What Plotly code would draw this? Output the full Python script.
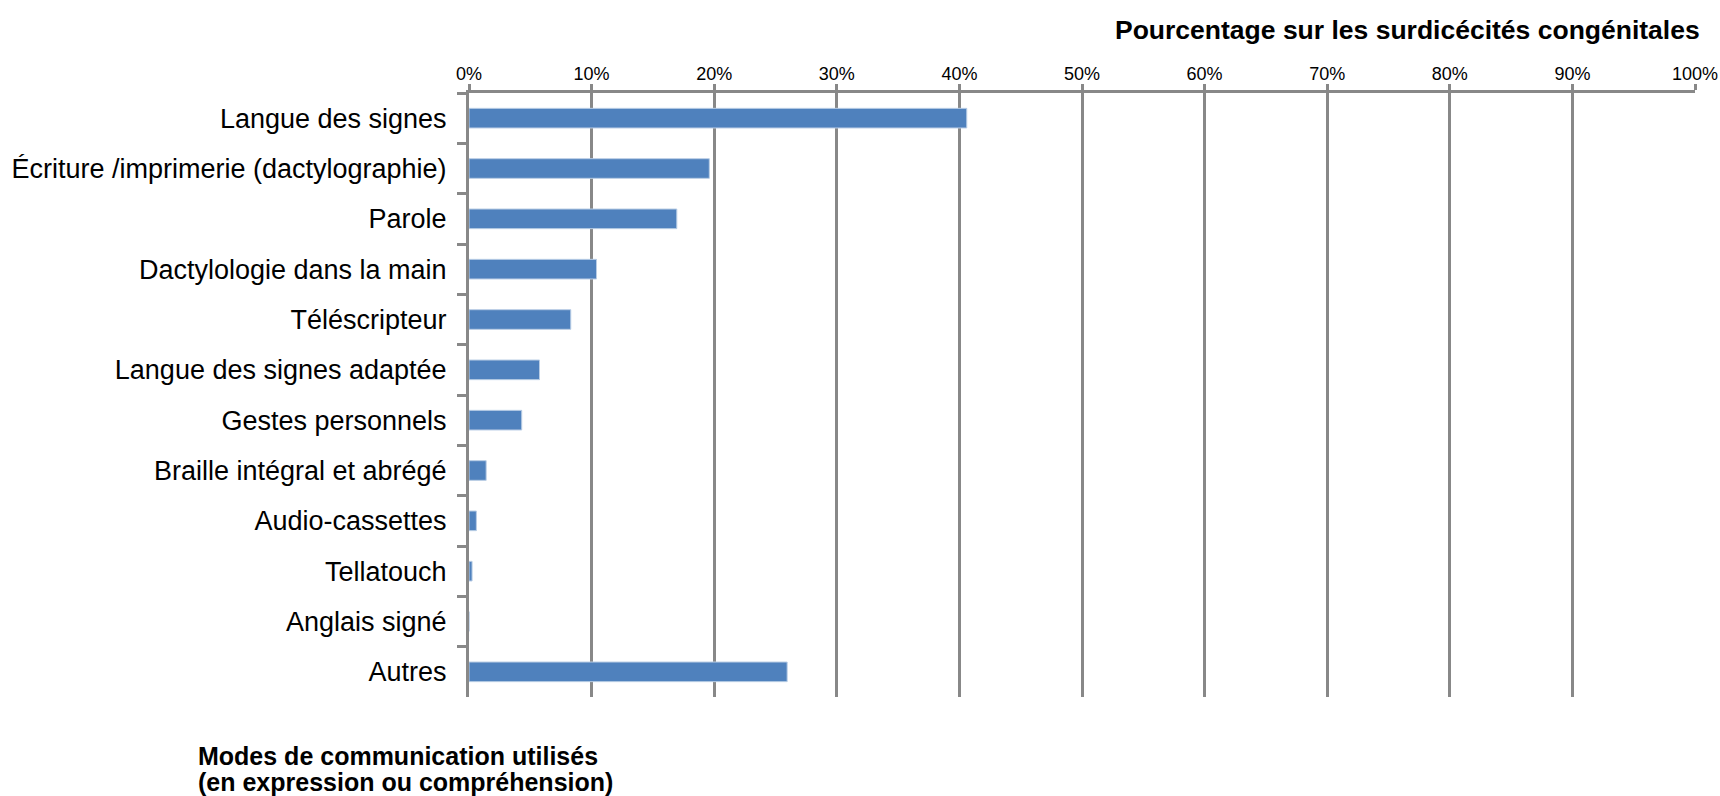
import plotly.graph_objects as go

categories = [
    "Langue des signes",
    "Écriture /imprimerie (dactylographie)",
    "Parole",
    "Dactylologie dans la main",
    "Téléscripteur",
    "Langue des signes adaptée",
    "Gestes personnels",
    "Braille intégral et abrégé",
    "Audio-cassettes",
    "Tellatouch",
    "Anglais signé",
    "Autres",
]
values = [40.6, 19.6, 16.95, 10.4, 8.3, 5.75, 4.3, 1.4, 0.6, 0.25, 0.0, 25.95]

x_title = "Pourcentage sur les surdicécités congénitales"
y_title_lines = ["Modes de communication utilisés", "(en expression ou compréhension)"]

W, H = 1720, 796
L, R, T, B = 469, 25, 93, 99
pw, ph = W - L - R, H - T - B

def px(x):
    return (x - L) / pw

def py(y):
    return (H - B - y) / ph

FONT = "Liberation Sans, Arial, sans-serif"
GRID = "#888888"

fig = go.Figure(
    go.Bar(
        x=values,
        y=categories,
        orientation="h",
        marker=dict(color="#4F81BD", line=dict(color="#B9CDE5", width=1)),
        width=0.39,
        hoverinfo="x+y",
    )
)

fig.update_layout(
    template="none",
    width=W,
    height=H,
    margin=dict(l=L, r=R, t=T, b=B, autoexpand=False),
    paper_bgcolor="white",
    plot_bgcolor="white",
    showlegend=False,
    font=dict(family=FONT, color="black"),
    xaxis=dict(
        side="top",
        range=[0, 100],
        dtick=10,
        tick0=0,
        ticksuffix="%",
        showgrid=True,
        gridcolor=GRID,
        gridwidth=2.5,
        showline=True,
        linecolor=GRID,
        linewidth=3,
        ticks="outside",
        ticklen=6,
        tickwidth=2.5,
        tickcolor=GRID,
        ticklabelstandoff=-3,
        tickfont=dict(size=18, family=FONT, color="black"),
        zeroline=False,
        automargin=False,
        fixedrange=True,
    ),
    yaxis=dict(
        type="category",
        categoryorder="array",
        categoryarray=categories,
        autorange=False,
        range=[len(categories) - 0.5, -0.5],
        showline=True,
        linecolor=GRID,
        linewidth=3,
        ticks="outside",
        tickson="boundaries",
        ticklen=9,
        tickwidth=2.5,
        tickcolor=GRID,
        ticklabelstandoff=14,
        tickfont=dict(size=27, family=FONT, color="black"),
        showgrid=False,
        zeroline=False,
        automargin=False,
        fixedrange=True,
    ),
    annotations=[
        dict(
            text="<b>" + x_title + "</b>",
            xref="paper", yref="paper",
            x=px(1702), y=py(30),
            xanchor="right", yanchor="middle",
            showarrow=False,
            font=dict(size=26.5, family=FONT, color="black"),
        ),
        dict(
            text="<b>" + y_title_lines[0] + "</b>",
            xref="paper", yref="paper",
            x=px(196), y=py(756),
            xanchor="left", yanchor="middle",
            showarrow=False,
            font=dict(size=25, family=FONT, color="black"),
        ),
        dict(
            text="<b>" + y_title_lines[1] + "</b>",
            xref="paper", yref="paper",
            x=px(196), y=py(782),
            xanchor="left", yanchor="middle",
            showarrow=False,
            font=dict(size=25, family=FONT, color="black"),
        ),
    ],
)

fig.write_html(
    "out.html",
    config={"displayModeBar": False},
    post_script="document.body.style.margin='0';document.body.style.overflow='hidden';",
)
